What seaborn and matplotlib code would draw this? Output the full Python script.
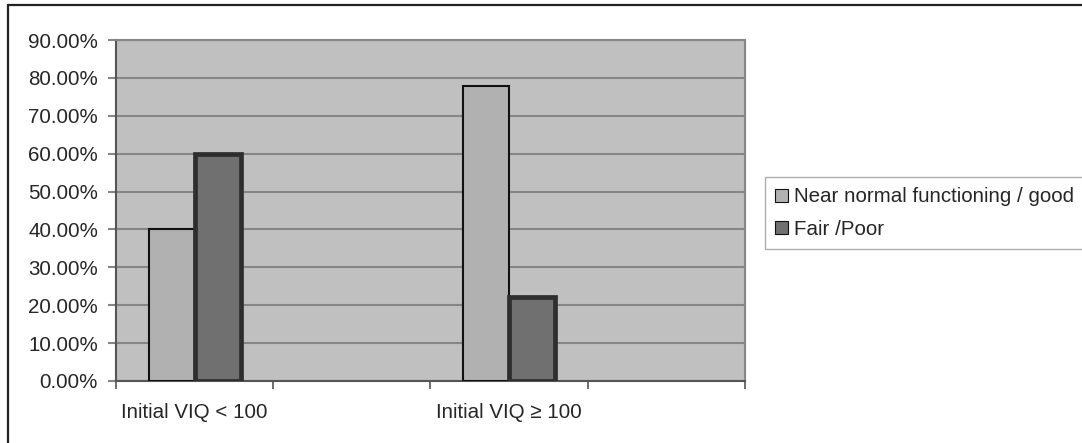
import pandas as pd
import seaborn as sns
import matplotlib.pyplot as plt
from matplotlib.ticker import PercentFormatter, FixedLocator
from matplotlib.lines import Line2D

# ----- Data ----- #
groups = ["Initial VIQ < 100", "Initial VIQ ≥ 100"]
outcomes = ["Near normal functioning / good", "Fair /Poor"]
near_normal = [40.0, 77.78]
fair_poor = [60.0, 22.22]

# Excel-style axis with an empty slot after each group
slots = [groups[0], "_blank1", groups[1], "_blank2"]

df = pd.DataFrame({
    "Group": groups * 2,
    "Outcome": [outcomes[0]] * 2 + [outcomes[1]] * 2,
    "Percent": near_normal + fair_poor,
})

sns.set_style("white")
plt.rcParams["font.family"] = ["Liberation Sans", "DejaVu Sans"]

fills = {outcomes[0]: "#b1b1b1", outcomes[1]: "#707070"}
edges = ["#111111", "#2e2e2e"]
edge_w = [1.5, 3.4]
fs = 14.8

fig = plt.figure(figsize=(10.82, 4.43), dpi=100)
ax = fig.add_axes([0.1072, 0.140, 0.5813, 0.7697])

sns.barplot(data=df, x="Group", y="Percent", hue="Outcome", order=slots,
            hue_order=outcomes, palette=fills, width=0.586, gap=0,
            saturation=1, ax=ax, legend=False)

for i, cont in enumerate(ax.containers):
    for bar in cont:
        bar.set_edgecolor(edges[i])
        bar.set_linewidth(edge_w[i])
        bar.set_zorder(3)

ax.set_facecolor("#c0c0c0")
ax.set_xlim(-0.5, 3.5)
ax.set_ylim(0, 90)
ax.set_yticks(range(0, 91, 10))
ax.yaxis.set_major_formatter(PercentFormatter(decimals=2))
ax.grid(axis="y", color="#868686", linewidth=1.5, zorder=0)
ax.set_axisbelow(True)

# category boundaries as ticks, labels in between
ax.xaxis.set_major_locator(FixedLocator([-0.5, 0.5, 1.5, 2.5, 3.5]))
ax.set_xticklabels([""] * 5)
ax.xaxis.set_minor_locator(FixedLocator([0, 2]))
ax.set_xticklabels(groups, minor=True)
ax.tick_params(axis="x", which="major", direction="out", length=6, width=1.2,
               color="#555555", bottom=True)
ax.tick_params(axis="x", which="minor", length=0, pad=16, labelsize=fs)
ax.tick_params(axis="y", direction="out", length=6, width=1.5, color="#868686",
               left=True, labelsize=fs, pad=7)

ax.set_xlabel("")
ax.set_ylabel("")
for side in ["left", "bottom"]:
    ax.spines[side].set_color("#555555")
    ax.spines[side].set_linewidth(1.5)
for side in ["top", "right"]:
    ax.spines[side].set_visible(True)
    ax.spines[side].set_color("#868686")
    ax.spines[side].set_linewidth(1.5)

# legend outside on the right
handles = [plt.Rectangle((0, 0), 1, 1, facecolor=fills[o], edgecolor="#111111",
                         linewidth=0.8) for o in outcomes]
leg = fig.legend(handles, outcomes, loc="upper left", bbox_to_anchor=(0.707, 0.600),
                 fontsize=fs, frameon=True, fancybox=False, edgecolor="#999999",
                 handlelength=0.6, handleheight=0.6, handletextpad=0.3,
                 labelspacing=0.65, borderpad=0.5, borderaxespad=0)
leg.get_frame().set_linewidth(1.0)

# outer chart frame
fig.add_artist(Line2D([0.0074, 0.0074], [0.0, 0.9887], color="#222222", linewidth=1.6,
                      transform=fig.transFigure))
fig.add_artist(Line2D([0.0074, 1.0], [0.9887, 0.9887], color="#222222", linewidth=1.6,
                      transform=fig.transFigure))

fig.savefig("out.png", dpi=100, facecolor="white")
